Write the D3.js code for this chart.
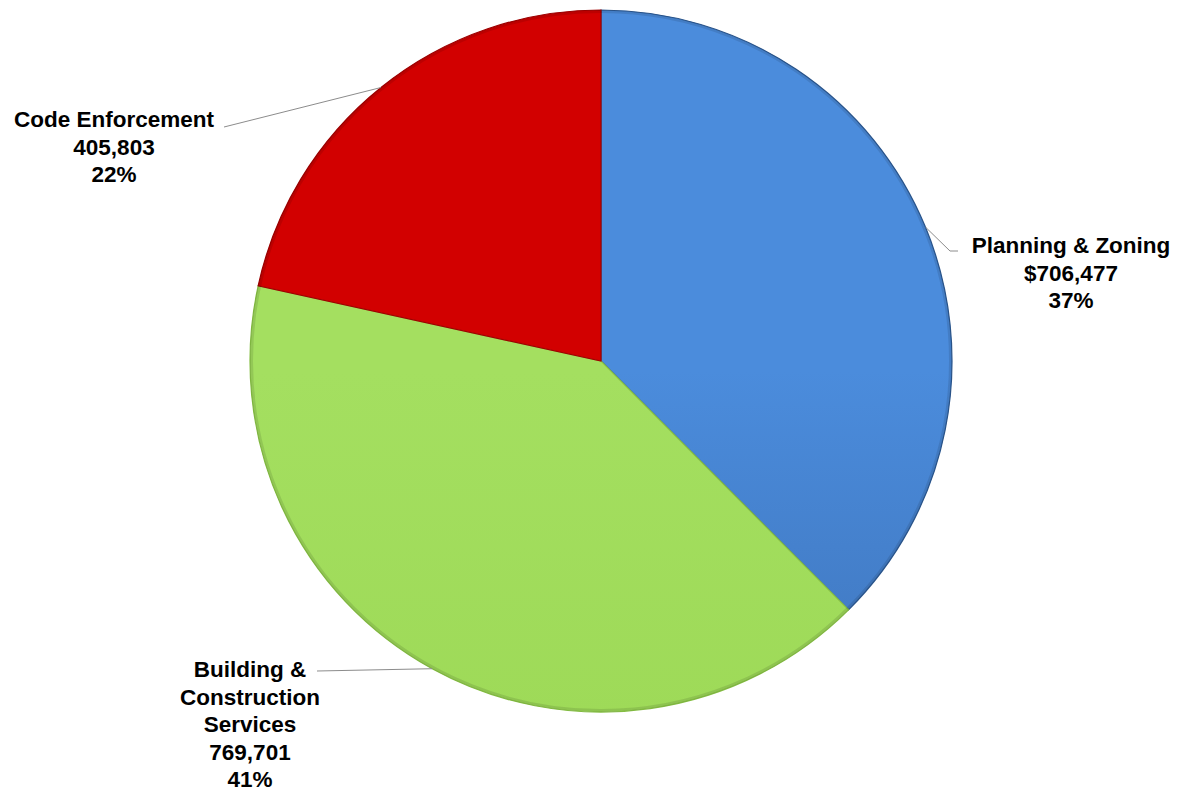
<!doctype html>
<html lang="en">
  <head>
    <meta charset="utf-8" />
    <title>Budget by Division</title>
    <style>
      body { margin: 0; background: #fff; }
      svg text { font-family: "Liberation Sans", Arial, sans-serif; font-weight: bold; font-size: 22.5px; fill: #000; }
    </style>
  </head>
  <body>
    <svg id="chart" width="1189" height="791"></svg>
    <script src="https://cdn.jsdelivr.net/npm/d3@7"></script>
    <script>
	// slices go clockwise from 12 o'clock
	var categories = ["Planning & Zoning", "Building & Construction Services", "Code Enforcement"];
	var values = [706477, 769701, 405803];
	var valueLabels = ["$706,477", "769,701", "405,803"];
	var percentLabels = ["37%", "41%", "22%"];
	// label lines, the name wraps where Excel wrapped it
	var nameLines = [["Planning & Zoning"], ["Building &", "Construction", "Services"], ["Code Enforcement"]];

	var cx = 601, cy = 361, radius = 351;
	var svg = d3.select("#chart");

	// gradients: light top, darker bottom, like the office pie style
	var grads = [
		{id: "g0", top: "#4b8cdc", bottom: "#3360a0"},
		{id: "g1", top: "#a4df60", bottom: "#98d550"},
		{id: "g2", top: "#d20000", bottom: "#c80000"}
	];
	var defs = svg.append("defs");
	grads.forEach(function(g) {
		var lg = defs.append("linearGradient")
			.attr("id", g.id)
			.attr("gradientUnits", "userSpaceOnUse")
			.attr("x1", 0).attr("y1", cy - radius)
			.attr("x2", 0).attr("y2", cy + radius);
		lg.append("stop").attr("offset", "0%").attr("stop-color", g.top);
		lg.append("stop").attr("offset", "100%").attr("stop-color", g.bottom);
	});

	var pie = d3.pie().sort(null).value(function(d) { return d; });
	var arcs = pie(values);
	var arc = d3.arc().innerRadius(0).outerRadius(radius);

	var g = svg.append("g").attr("transform", "translate(" + cx + "," + cy + ")");

	g.selectAll("path.slice")
		.data(arcs)
		.enter().append("path")
		.attr("class", "slice")
		.attr("d", arc)
		.attr("fill", function(d, i) { return "url(#" + grads[i].id + ")"; })
		.style("stroke", function(d, i) { return ["#2c5890", "#86bf44", "#a00000"][i]; })
		.style("stroke-width", 1.2);

	// a thin darker rim
	g.append("circle")
		.attr("r", radius - 1.5)
		.attr("fill", "none")
		.style("stroke", "rgba(0,0,0,0.1)")
		.style("stroke-width", 3);

	// label placement (leader line ends at lx, ly)
	var labelPos = [
		{x: 1071, y: 253, lx: 958, ly: 251},
		{x: 250, y: 677, lx: 317, ly: 671},
		{x: 114, y: 127, lx: 224, ly: 127}
	];
	var lineGap = 27.5;

	arcs.forEach(function(d, i) {
		var mid = (d.startAngle + d.endAngle) / 2;
		var px = cx + radius * Math.sin(mid);
		var py = cy - radius * Math.cos(mid);
		var p = labelPos[i];
		var pts;
		if (i == 0) {
			pts = [[px, py], [p.lx - 8, p.ly], [p.lx, p.ly]];
		} else {
			pts = [[px, py], [p.lx, p.ly]];
		}
		svg.append("path")
			.attr("d", d3.line()(pts))
			.attr("fill", "none")
			.style("stroke", "#8c8c8c")
			.style("stroke-width", 1);

		var lines = nameLines[i].concat([valueLabels[i], percentLabels[i]]);
		var t = svg.append("text")
			.attr("text-anchor", "middle");
		lines.forEach(function(s, k) {
			t.append("tspan")
				.attr("x", p.x)
				.attr("y", p.y + k * lineGap)
				.text(s);
		});
	});
    </script>
  </body>
</html>
